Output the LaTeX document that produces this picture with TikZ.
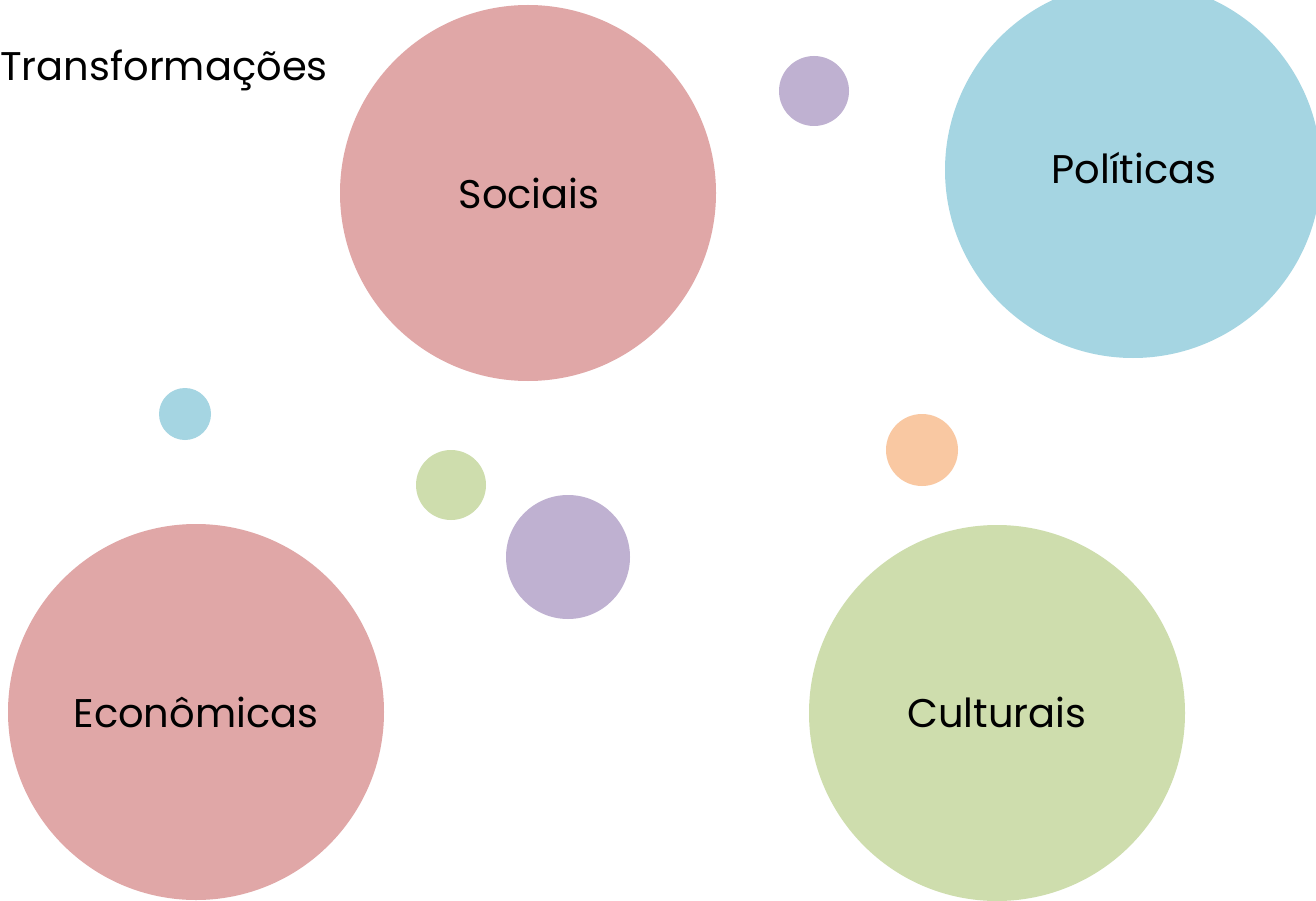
\documentclass[tikz,border=0pt]{standalone}
\usepackage{fontspec}
\setmainfont{Poppins}
\definecolor{cpink}{HTML}{E0A7A7}
\definecolor{cblue}{HTML}{A5D5E2}
\definecolor{cpurple}{HTML}{BFB1D1}
\definecolor{cgreen}{HTML}{CEDDAD}
\definecolor{corange}{HTML}{F9C8A2}
\begin{document}
\begin{tikzpicture}[x=1pt,y=-1pt,
  bubble/.style={circle,inner sep=0pt,minimum size=#1,draw=none},
  lbl/.style={font=\fontsize{40}{44}\selectfont,text=black}]
\useasboundingbox (0,0) rectangle (1316,901);
\clip (0,0) rectangle (1316,901);
\fill[white] (0,0) rectangle (1316,901);
\node[bubble=376pt,fill=cpink] (soc) at (528,193) {};
\node[bubble=376pt,fill=cblue] (pol) at (1133,170) {};
\node[bubble=376pt,fill=cpink] (eco) at (196,712) {};
\node[bubble=376pt,fill=cgreen] (cul) at (997,713) {};
\node[bubble=70pt,fill=cpurple] (p1) at (814,91) {};
\node[bubble=52pt,fill=cblue] (b1) at (185,414) {};
\node[bubble=70pt,fill=cgreen] (g1) at (451,485) {};
\node[bubble=124pt,fill=cpurple] (p2) at (568,557) {};
\node[bubble=72pt,fill=corange] (o1) at (922,450) {};
\node[lbl] (tsoc) at (529,193) {Sociais};
\node[lbl] (tpol) at (1134,168) {Políticas};
\node[lbl] (teco) at (196,712) {Econômicas};
\node[lbl] (tcul) at (997,712) {Culturais};
\node[lbl,font=\fontsize{40}{44}\selectfont,anchor=base west,inner sep=0pt] (title) at (0,81) {Transformações};
\end{tikzpicture}
\end{document}
